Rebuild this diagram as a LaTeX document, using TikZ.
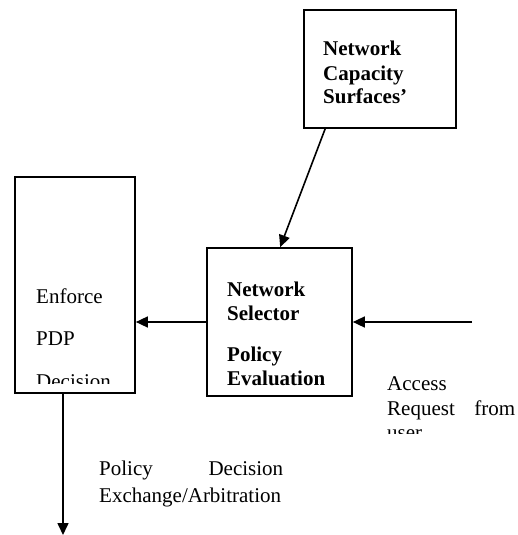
\documentclass[tikz,border=0pt]{standalone}
\usepackage{fontspec}
\setmainfont{Liberation Serif}
\usetikzlibrary{arrows.meta}
\begin{document}
\begin{tikzpicture}[x=1pt,y=-1pt,
  box/.style={draw,line width=1.7pt,inner sep=0pt},
  arr/.style={line width=1.6pt,-{Triangle[length=12pt,width=11pt]}},
  txt/.style={anchor=base west,inner sep=0pt,font=\fontsize{21}{24}\selectfont},
  btxt/.style={txt,font=\fontsize{21}{24}\selectfont\bfseries}]
\useasboundingbox (0,0) rectangle (517,535);
% boxes
\node[box,minimum width=152pt,minimum height=118pt] (ncs) at (380,69) {};
\node[box,minimum width=120pt,minimum height=216pt] (enf) at (75,285) {};
\node[box,minimum width=145pt,minimum height=148pt] (sel) at (279.5,322) {};
% box texts
\node[btxt] (t1) at (323,56) {Network};
\node[btxt] (t2) at (323,80) {Capacity};
\node[btxt] (t3) at (323,103) {Surfaces’};
\node[btxt] (s1) at (227,296) {Network};
\node[btxt] (s2) at (227,320) {Selector};
\node[btxt] (s3) at (227,361) {Policy};
\node[btxt] (s4) at (227,385) {Evaluation};
\node[txt] (e1) at (36,303) {Enforce};
\node[txt] (e2) at (36,345) {PDP};
\begin{scope}
\clip (0,0) rectangle (517,383);
\node[txt] (e3) at (36,388) {Decision};
\end{scope}
% access text
\node[txt] (a1) at (387,390) {Access};
\node[txt] (a2) at (387,415) {\hbox to 128pt{Request\hfill from}};
\begin{scope}
\clip (0,0) rectangle (517,433);
\node[txt] (a3) at (387,439) {user};
\end{scope}
% policy decision text
\node[txt] (p1) at (99,475) {\hbox to 184pt{Policy\hfill Decision}};
\node[txt] (p2) at (99,502) {Exchange/Arbitration};
% connectors
\coordinate (inp) at (472,322);
\coordinate (out) at (63,535);
\draw[arr] ([xshift=22pt]ncs.south west) -- ([xshift=74pt]sel.north west);
\draw[arr] (inp) -- (sel.east);
\draw[arr] (sel.west) -- (sel.west -| enf.east);
\draw[arr] (enf.south -| out) -- (out);
\end{tikzpicture}
\end{document}
